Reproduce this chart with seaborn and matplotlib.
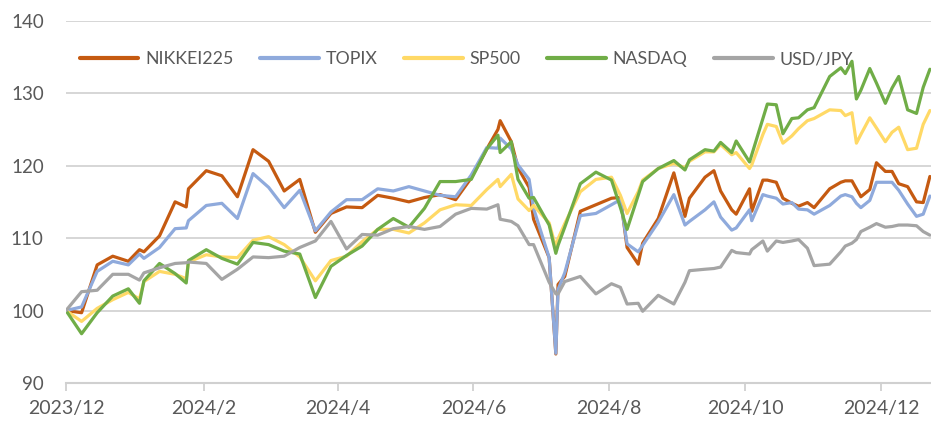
import pandas as pd
import matplotlib
matplotlib.use("Agg")
import matplotlib.pyplot as plt
import seaborn as sns

dates = ["2023-12-29", "2024-01-05", "2024-01-12", "2024-01-19", "2024-01-26", "2024-01-31",
         "2024-02-02", "2024-02-09", "2024-02-16", "2024-02-21", "2024-02-22", "2024-03-01",
         "2024-03-08", "2024-03-15", "2024-03-22", "2024-03-29", "2024-04-05", "2024-04-12",
         "2024-04-19", "2024-04-26", "2024-05-03", "2024-05-10", "2024-05-17", "2024-05-24",
         "2024-05-31", "2024-06-07", "2024-06-14", "2024-06-21", "2024-06-28", "2024-07-05",
         "2024-07-10", "2024-07-11", "2024-07-16", "2024-07-19", "2024-07-24", "2024-07-26",
         "2024-08-02", "2024-08-05", "2024-08-06", "2024-08-09", "2024-08-16", "2024-08-23",
         "2024-08-30", "2024-09-03", "2024-09-06", "2024-09-11", "2024-09-13", "2024-09-20",
         "2024-09-27", "2024-10-02", "2024-10-04", "2024-10-11", "2024-10-15", "2024-10-18",
         "2024-10-23", "2024-10-25", "2024-10-31", "2024-11-01", "2024-11-06", "2024-11-08",
         "2024-11-12", "2024-11-15", "2024-11-19", "2024-11-22", "2024-11-26", "2024-11-29",
         "2024-12-06", "2024-12-11", "2024-12-13", "2024-12-16", "2024-12-18", "2024-12-20",
         "2024-12-24", "2024-12-27", "2024-12-31", "2025-01-03", "2025-01-06", "2025-01-10",
         "2025-01-14", "2025-01-17", "2025-01-20"]

nikkei225 = [100.0, 99.7, 106.3, 107.5, 106.8, 108.4,
             108.1, 110.3, 115.0, 114.3, 116.8, 119.3,
             118.6, 115.7, 122.2, 120.6, 116.5, 118.1,
             110.8, 113.4, 114.3, 114.2, 115.9, 115.5,
             115.0, 115.6, 116.0, 115.3, 118.3, 122.3,
             125.0, 126.2, 123.3, 119.7, 117.0, 112.6,
             107.3, 94.0, 103.6, 104.7, 113.7, 114.6,
             115.5, 115.6, 108.7, 106.4, 109.3, 112.7,
             119.0, 113.0, 115.5, 118.4, 119.3, 116.5,
             113.9, 113.3, 116.8, 113.7, 118.0, 118.0,
             117.7, 115.5, 114.8, 114.4, 114.9, 114.2,
             116.8, 117.7, 117.9, 117.9, 116.8, 115.7,
             116.7, 120.4, 119.2, 119.2, 117.5, 117.1,
             115.0, 114.9, 118.5]

topix = [100.0, 100.5, 105.4, 106.8, 106.3, 107.8,
         107.2, 108.7, 111.3, 111.4, 112.4, 114.5,
         114.8, 112.7, 118.9, 117.0, 114.2, 116.6,
         111.0, 113.6, 115.3, 115.3, 116.8, 116.5,
         117.1, 116.5, 115.9, 115.7, 118.7, 122.5,
         122.4, 123.8, 122.3, 120.1, 118.1, 114.1,
         107.3, 94.1, 102.9, 105.2, 113.1, 113.4,
         114.6, 115.3, 109.2, 108.1, 109.0, 112.2,
         116.0, 111.8, 112.3, 113.9, 115.0, 112.9,
         111.1, 111.4, 113.9, 112.4, 116.0, 115.8,
         115.5, 114.7, 114.9, 114.0, 113.9, 113.3,
         114.5, 115.8, 116.0, 115.7, 114.8, 114.2,
         115.2, 117.7, 117.7, 117.7, 116.6, 114.7,
         113.0, 113.3, 115.8]

sp500 = [100.0, 98.5, 100.3, 101.5, 102.5, 101.6,
         104.0, 105.4, 105.0, 104.4, 106.7, 107.7,
         107.4, 107.3, 109.7, 110.2, 109.1, 107.4,
         104.1, 106.9, 107.5, 109.5, 111.2, 111.2,
         110.7, 112.1, 113.9, 114.6, 114.5, 116.7,
         118.1, 117.1, 118.8, 115.4, 113.8, 114.5,
         112.1, 108.7, 109.9, 112.0, 116.4, 118.1,
         118.4, 115.9, 113.4, 116.4, 118.0, 119.6,
         120.3, 119.7, 120.6, 121.9, 121.9, 122.9,
         121.5, 121.8, 119.6, 120.1, 124.3, 125.7,
         125.4, 123.1, 124.1, 125.1, 126.2, 126.5,
         127.7, 127.6, 126.9, 127.3, 123.1, 124.3,
         126.6, 125.2, 123.3, 124.6, 125.3, 122.2,
         122.4, 125.7, 127.6]

nasdaq = [100.0, 96.8, 99.7, 102.0, 103.0, 101.0,
          104.1, 106.5, 105.1, 103.8, 106.9, 108.4,
          107.2, 106.4, 109.4, 109.1, 108.2, 107.8,
          101.8, 106.1, 107.6, 108.9, 111.2, 112.7,
          111.5, 114.1, 117.8, 117.8, 118.1, 122.3,
          124.2, 121.8, 123.3, 118.1, 115.5, 115.6,
          111.8, 107.9, 109.0, 111.5, 117.5, 119.1,
          118.0, 114.2, 111.2, 115.9, 117.8, 119.6,
          120.7, 119.4, 120.8, 122.2, 122.0, 123.2,
          121.8, 123.4, 120.5, 121.5, 126.5, 128.5,
          128.4, 124.4, 126.5, 126.6, 127.7, 128.0,
          132.3, 133.5, 132.7, 134.4, 129.2, 130.4,
          133.4, 131.4, 128.6, 130.7, 132.3, 127.7,
          127.2, 130.8, 133.3]

usdjpy = [100.0, 102.6, 102.8, 105.0, 105.0, 104.2,
          105.2, 105.9, 106.5, 106.6, 106.7, 106.5,
          104.3, 105.7, 107.4, 107.3, 107.5, 108.7,
          109.6, 112.3, 108.5, 110.5, 110.4, 111.3,
          111.6, 111.2, 111.6, 113.3, 114.1, 114.0,
          114.6, 112.6, 112.3, 111.7, 109.1, 109.1,
          103.9, 102.3, 102.3, 104.0, 104.7, 102.3,
          103.7, 103.2, 100.9, 101.0, 99.9, 102.1,
          100.9, 103.9, 105.5, 105.7, 105.8, 106.0,
          108.3, 108.0, 107.8, 108.4, 109.6, 108.2,
          109.6, 109.4, 109.6, 109.8, 108.6, 106.2,
          106.4, 108.1, 108.9, 109.3, 109.8, 110.9,
          111.5, 112.0, 111.5, 111.6, 111.8, 111.8,
          111.7, 110.9, 110.4]

series_names = ["NIKKEI225", "TOPIX", "SP500", "NASDAQ", "USD/JPY"]
series_values = [nikkei225, topix, sp500, nasdaq, usdjpy]
colors = ["#C55A11", "#8FAADC", "#FFD966", "#70AD47", "#A5A5A5"]

tick_dates = ["2023-12-29", "2024-02-29", "2024-04-29", "2024-06-29",
              "2024-08-29", "2024-10-29", "2024-12-29"]
tick_labels = ["2023/12", "2024/2", "2024/4", "2024/6", "2024/8", "2024/10", "2024/12"]

frames = []
for name, vals in zip(series_names, series_values):
    frames.append(pd.DataFrame({"date": pd.to_datetime(dates), "value": vals, "series": name}))
df = pd.concat(frames, ignore_index=True)

sns.set_theme(style="white")
plt.rcParams["font.family"] = ["Lato", "DejaVu Sans"]
text_color = "#595959"

fig = plt.figure(figsize=(9.31, 4.26), dpi=100)
ax = fig.add_axes([66 / 931, 1 - 383 / 426, 1 - 66 / 931, (383 - 20.7) / 426])

sns.lineplot(data=df, x="date", y="value", hue="series", hue_order=series_names,
             palette=dict(zip(series_names, colors)), linewidth=2.3, ax=ax, legend=False)

ax.set_ylim(90, 140)
ax.set_yticks([90, 100, 110, 120, 130, 140])
ax.set_xlim(pd.Timestamp("2023-12-29"), pd.Timestamp("2025-01-20 12:00"))
ax.set_xticks(pd.to_datetime(tick_dates))
ax.set_xticklabels(tick_labels)
ax.set_xlabel("")
ax.set_ylabel("")

for v in [100, 110, 120, 130, 140]:
    ax.axhline(v, color="#D0D0D0", linewidth=1.2, zorder=0)

for s in ["top", "right", "left"]:
    ax.spines[s].set_visible(False)
ax.spines["bottom"].set_color("#D0D0D0")
ax.spines["bottom"].set_linewidth(1.5)
ax.tick_params(axis="x", which="major", direction="out", length=6, width=1.3,
               color="#D0D0D0", labelsize=14, labelcolor=text_color, pad=6, bottom=True)
ax.tick_params(axis="y", length=0, labelsize=13.5, labelcolor=text_color, pad=16, left=False)

handles = [plt.Line2D([0], [0], color=c, linewidth=3) for c in colors]
leg = ax.legend(handles, series_names, loc="center", bbox_to_anchor=(0.463, 0.893), ncol=5,
                frameon=False, fontsize=12.8, handlelength=3.3, handletextpad=0.38,
                columnspacing=1.5)
for t in leg.get_texts():
    t.set_color(text_color)

fig.savefig("out.png", dpi=100)
